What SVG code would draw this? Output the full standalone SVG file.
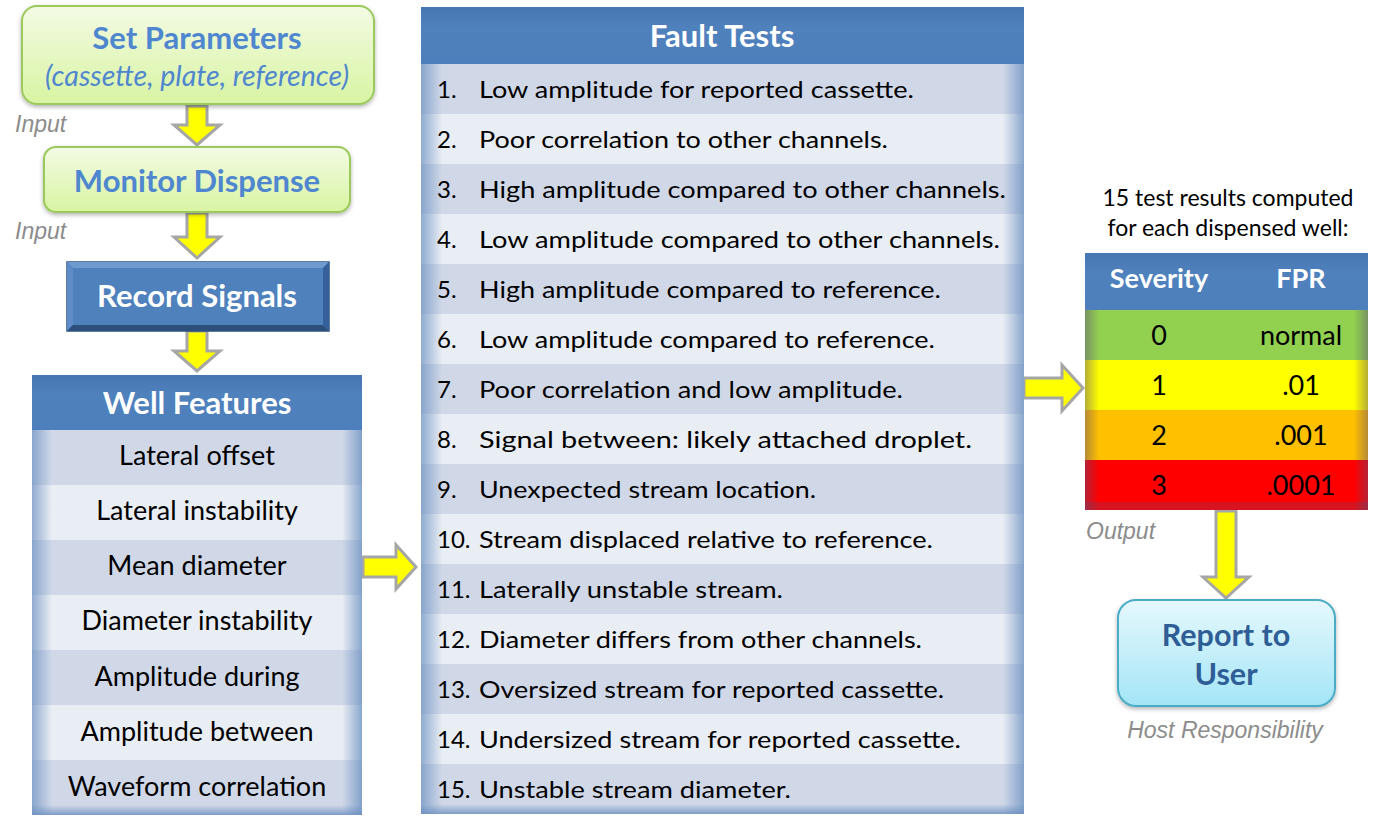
<svg xmlns="http://www.w3.org/2000/svg" width="1375" height="824" viewBox="0 0 1375 824">
<defs>
<linearGradient id="gGreen" x1="0" y1="0" x2="0" y2="1"><stop offset="0" stop-color="#f3fbe4"/><stop offset="1" stop-color="#d8f4a2"/></linearGradient>
<linearGradient id="gCyan" x1="0" y1="0" x2="0" y2="1"><stop offset="0" stop-color="#e6f8fd"/><stop offset="1" stop-color="#a3e5f7"/></linearGradient>
<linearGradient id="gHead" x1="0" y1="0" x2="0" y2="1"><stop offset="0" stop-color="#4676b3"/><stop offset="0.35" stop-color="#4f81bd"/><stop offset="1" stop-color="#4d7fbc"/></linearGradient>
<linearGradient id="gSideW" x1="0" y1="0" x2="1" y2="0"><stop offset="0" stop-color="#6a8fc0" stop-opacity="0.7"/><stop offset="0.035" stop-color="#6a8fc0" stop-opacity="0"/><stop offset="0.965" stop-color="#6a8fc0" stop-opacity="0"/><stop offset="1" stop-color="#6a8fc0" stop-opacity="0.75"/></linearGradient>
<linearGradient id="gSideN" x1="0" y1="0" x2="1" y2="0"><stop offset="0" stop-color="#6a8fc0" stop-opacity="0.7"/><stop offset="0.06" stop-color="#6a8fc0" stop-opacity="0"/><stop offset="0.94" stop-color="#6a8fc0" stop-opacity="0"/><stop offset="1" stop-color="#6a8fc0" stop-opacity="0.75"/></linearGradient>
<linearGradient id="gBot" x1="0" y1="0" x2="0" y2="1"><stop offset="0" stop-color="#6a8fc0" stop-opacity="0"/><stop offset="1" stop-color="#6a8fc0" stop-opacity="0.8"/></linearGradient>
<linearGradient id="gSevSide" x1="0" y1="0" x2="1" y2="0"><stop offset="0" stop-color="#5a4a7a" stop-opacity="0.45"/><stop offset="0.05" stop-color="#5a4a7a" stop-opacity="0"/><stop offset="0.95" stop-color="#5a4a7a" stop-opacity="0"/><stop offset="1" stop-color="#5a4a7a" stop-opacity="0.45"/></linearGradient>
<filter id="shadow" x="-10%" y="-10%" width="120%" height="130%"><feDropShadow dx="0" dy="2" stdDeviation="2" flood-color="#000" flood-opacity="0.3"/></filter>
</defs>
<style>
.arrow{fill:#ffff00;stroke:#a6a6a6;stroke-width:3;stroke-linejoin:miter}
.hdr{font-family:Lato,"Open Sans",sans-serif;font-weight:bold;font-size:31px;fill:#ffffff;text-anchor:middle}
.sev{font-size:27px}
.cell{font-family:Lato,"Open Sans",sans-serif;font-size:27px;fill:#000000}
.ft{font-family:Lato,"Open Sans",sans-serif;font-size:24px;fill:#000000}
.note{font-family:Lato,"Open Sans",sans-serif;font-size:23px;fill:#000000;text-anchor:middle}
.mid{text-anchor:middle}
.lbl{font-family:"Liberation Sans",Arial,sans-serif;font-style:italic;font-size:23px;fill:#8c8c8c}
.title{font-family:Lato,"Open Sans",sans-serif;font-weight:bold;font-size:31px;fill:#4f86d0;text-anchor:middle}
.dark{fill:#d0d8e8}
.light{fill:#e9edf4}
</style>

<g id="connectors">
<path class="arrow" d="M187,106 L207,106 L207,125 L220,125 L197,145 L174,125 L187,125 Z"/>
<path class="arrow" d="M187,213 L207,213 L207,237 L220,237 L197,258 L174,237 L187,237 Z"/>
<path class="arrow" d="M187,331 L207,331 L207,351 L220,351 L197,371 L174,351 L187,351 Z"/>
<path class="arrow" d="M363,557 L396,557 L396,545 L416,567 L396,589 L396,577 L363,577 Z"/>
<path class="arrow" d="M1024,378 L1062,378 L1062,365 L1083,388 L1062,411 L1062,398 L1024,398 Z"/>
<path class="arrow" d="M1216,511 L1236,511 L1236,577 L1249,577 L1226,598 L1203,577 L1216,577 Z"/>
</g>

<g id="set-parameters">
<rect x="22" y="6" width="352" height="98" rx="15" fill="url(#gGreen)" stroke="#9bc95c" stroke-width="2" filter="url(#shadow)"/>
<text class="title" x="197" y="49">Set Parameters</text>
<text x="197" y="86" font-family="Lato,'Open Sans',sans-serif" font-style="italic" font-size="28.5" fill="#4f86d0" text-anchor="middle">(cassette, plate, reference)</text>
</g>
<text class="lbl" x="15" y="132">Input</text>

<g id="monitor-dispense">
<rect x="44" y="147" width="306" height="65" rx="12" fill="url(#gGreen)" stroke="#9bc95c" stroke-width="2" filter="url(#shadow)"/>
<text class="title" x="197" y="192">Monitor Dispense</text>
</g>
<text class="lbl" x="15" y="239">Input</text>

<g id="record-signals">
<rect x="67" y="262" width="262" height="69" fill="#3b6aa3" stroke="#2d527f" stroke-width="1.5"/>
<polygon points="67,262 329,262 323,268 73,268" fill="#6f9ad0"/>
<polygon points="67,262 73,268 73,325 67,331" fill="#5f8cc6"/>
<polygon points="67,331 73,325 323,325 329,331" fill="#2c4f7c"/>
<polygon points="329,262 329,331 323,325 323,268" fill="#35609a"/>
<rect x="73" y="268" width="250" height="57" fill="#4f81bd"/>
<text class="hdr" x="197" y="307">Record Signals</text>
</g>

<g id="well-features">
<rect x="32" y="375" width="330" height="55" fill="url(#gHead)"/>
<text class="hdr" x="197" y="414">Well Features</text>
<rect class="dark" x="32" y="430" width="330" height="55"/>
<rect class="light" x="32" y="485" width="330" height="55"/>
<rect class="dark" x="32" y="540" width="330" height="55"/>
<rect class="light" x="32" y="595" width="330" height="55"/>
<rect class="dark" x="32" y="650" width="330" height="55"/>
<rect class="light" x="32" y="705" width="330" height="55"/>
<rect class="dark" x="32" y="760" width="330" height="55"/>
<rect x="32" y="430" width="330" height="385" fill="url(#gSideN)"/>
<rect x="32" y="805" width="330" height="10" fill="url(#gBot)"/>
<text class="cell mid" x="197" y="465">Lateral offset</text>
<text class="cell mid" x="197" y="520">Lateral instability</text>
<text class="cell mid" x="197" y="575">Mean diameter</text>
<text class="cell mid" x="197" y="630">Diameter instability</text>
<text class="cell mid" x="197" y="686">Amplitude during</text>
<text class="cell mid" x="197" y="741">Amplitude between</text>
<text class="cell mid" x="197" y="796">Waveform correlation</text>
</g>

<g id="fault-tests">
<rect x="421" y="7" width="603" height="57" fill="url(#gHead)"/>
<text class="hdr" x="722" y="47">Fault Tests</text>
<rect class="dark" x="421" y="64" width="603" height="50"/>
<rect class="light" x="421" y="114" width="603" height="50"/>
<rect class="dark" x="421" y="164" width="603" height="50"/>
<rect class="light" x="421" y="214" width="603" height="50"/>
<rect class="dark" x="421" y="264" width="603" height="50"/>
<rect class="light" x="421" y="314" width="603" height="50"/>
<rect class="dark" x="421" y="364" width="603" height="50"/>
<rect class="light" x="421" y="414" width="603" height="50"/>
<rect class="dark" x="421" y="464" width="603" height="50"/>
<rect class="light" x="421" y="514" width="603" height="50"/>
<rect class="dark" x="421" y="564" width="603" height="50"/>
<rect class="light" x="421" y="614" width="603" height="50"/>
<rect class="dark" x="421" y="664" width="603" height="50"/>
<rect class="light" x="421" y="714" width="603" height="50"/>
<rect class="dark" x="421" y="764" width="603" height="50"/>
<rect x="421" y="64" width="603" height="750" fill="url(#gSideW)"/>
<rect x="421" y="804" width="603" height="10" fill="url(#gBot)"/>
<g class="ft">
<text x="437" y="98">1.</text><text x="479" y="98" textLength="435" lengthAdjust="spacingAndGlyphs">Low amplitude for reported cassette.</text>
<text x="437" y="148">2.</text><text x="479" y="148" textLength="409" lengthAdjust="spacingAndGlyphs">Poor correlation to other channels.</text>
<text x="437" y="198">3.</text><text x="479" y="198" textLength="527" lengthAdjust="spacingAndGlyphs">High amplitude compared to other channels.</text>
<text x="437" y="248">4.</text><text x="479" y="248" textLength="521" lengthAdjust="spacingAndGlyphs">Low amplitude compared to other channels.</text>
<text x="437" y="298">5.</text><text x="479" y="298" textLength="462" lengthAdjust="spacingAndGlyphs">High amplitude compared to reference.</text>
<text x="437" y="348">6.</text><text x="479" y="348" textLength="456" lengthAdjust="spacingAndGlyphs">Low amplitude compared to reference.</text>
<text x="437" y="398">7.</text><text x="479" y="398" textLength="424" lengthAdjust="spacingAndGlyphs">Poor correlation and low amplitude.</text>
<text x="437" y="448">8.</text><text x="479" y="448" textLength="493" lengthAdjust="spacingAndGlyphs">Signal between: likely attached droplet.</text>
<text x="437" y="498">9.</text><text x="479" y="498" textLength="337" lengthAdjust="spacingAndGlyphs">Unexpected stream location.</text>
<text x="437" y="548">10.</text><text x="479" y="548" textLength="454" lengthAdjust="spacingAndGlyphs">Stream displaced relative to reference.</text>
<text x="437" y="598">11.</text><text x="479" y="598" textLength="304" lengthAdjust="spacingAndGlyphs">Laterally unstable stream.</text>
<text x="437" y="648">12.</text><text x="479" y="648" textLength="443" lengthAdjust="spacingAndGlyphs">Diameter differs from other channels.</text>
<text x="437" y="698">13.</text><text x="479" y="698" textLength="465" lengthAdjust="spacingAndGlyphs">Oversized stream for reported cassette.</text>
<text x="437" y="748">14.</text><text x="479" y="748" textLength="482" lengthAdjust="spacingAndGlyphs">Undersized stream for reported cassette.</text>
<text x="437" y="798">15.</text><text x="479" y="798" textLength="312" lengthAdjust="spacingAndGlyphs">Unstable stream diameter.</text>
</g>
</g>

<g id="severity-table">
<text class="note" x="1228" y="206">15 test results computed</text>
<text class="note" x="1228" y="236">for each dispensed well:</text>
<rect x="1085" y="253" width="283" height="57" fill="url(#gHead)"/>
<rect x="1085" y="310" width="283" height="50" fill="#92d050"/>
<rect x="1085" y="360" width="283" height="50" fill="#ffff00"/>
<rect x="1085" y="410" width="283" height="50" fill="#ffc000"/>
<rect x="1085" y="460" width="283" height="50" fill="#ff0000"/>
<rect x="1085" y="310" width="283" height="200" fill="url(#gSevSide)"/>
<rect x="1085" y="502" width="283" height="8" fill="#5a4a7a" opacity="0.25"/>
<text class="hdr sev" x="1159" y="288">Severity</text>
<text class="hdr sev" x="1301" y="288">FPR</text>
<text class="cell mid" x="1159" y="345">0</text><text class="cell mid" x="1301" y="345">normal</text>
<text class="cell mid" x="1159" y="395">1</text><text class="cell mid" x="1301" y="395">.01</text>
<text class="cell mid" x="1159" y="445">2</text><text class="cell mid" x="1301" y="445">.001</text>
<text class="cell mid" x="1159" y="495">3</text><text class="cell mid" x="1301" y="495">.0001</text>
</g>
<text class="lbl" x="1086" y="539">Output</text>

<g id="report-to-user">
<rect x="1118" y="600" width="217" height="106" rx="18" fill="url(#gCyan)" stroke="#4bacc6" stroke-width="2" filter="url(#shadow)"/>
<text x="1226" y="646" font-family="Lato,'Open Sans',sans-serif" font-weight="bold" font-size="30.5" fill="#2f5d96" text-anchor="middle">Report to</text>
<text x="1226" y="685" font-family="Lato,'Open Sans',sans-serif" font-weight="bold" font-size="30.5" fill="#2f5d96" text-anchor="middle">User</text>
</g>
<text class="lbl" x="1225" y="738" text-anchor="middle">Host Responsibility</text>
</svg>
